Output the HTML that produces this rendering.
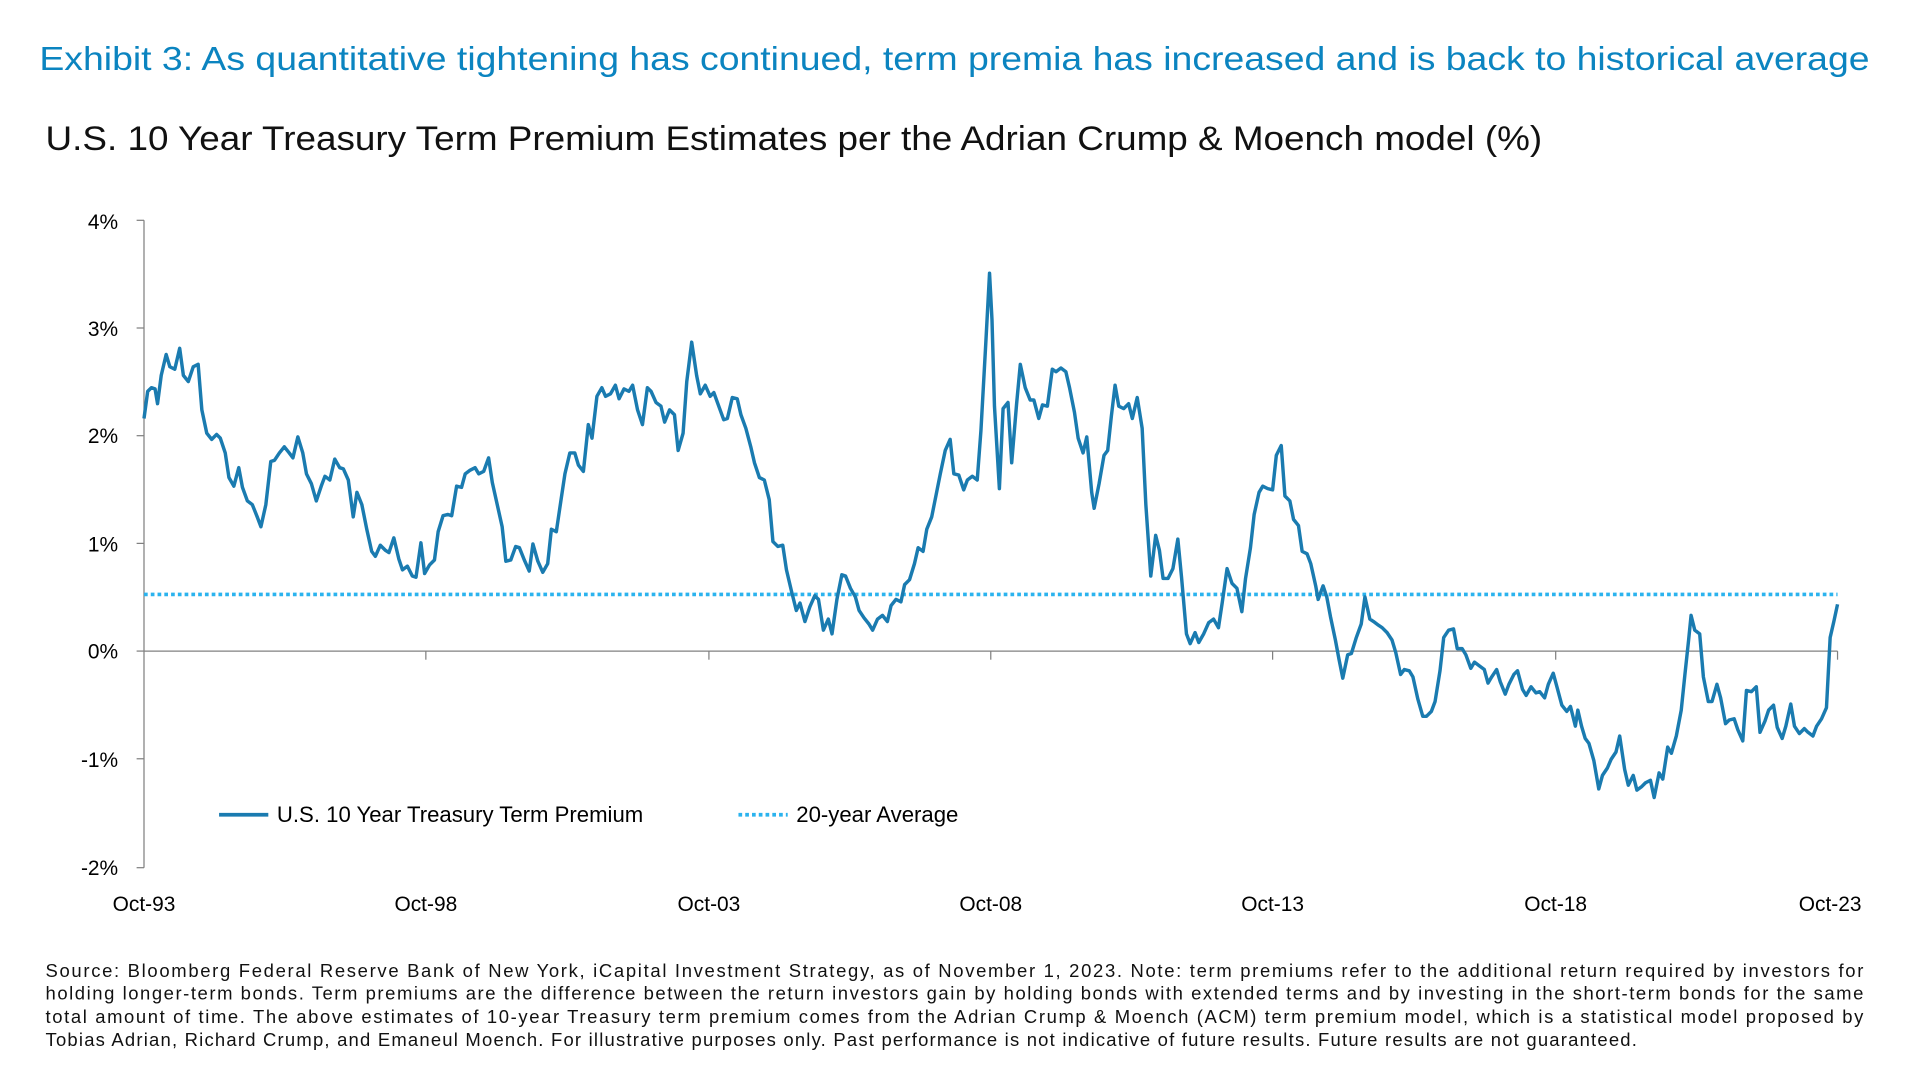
<!DOCTYPE html>
<html><head><meta charset="utf-8"><style>
html,body{margin:0;padding:0;background:#fff;}
svg{display:block;}
text{font-family:"Liberation Sans",sans-serif;}
</style></head><body>
<svg width="1920" height="1080" viewBox="0 0 1560 877.5" xmlns="http://www.w3.org/2000/svg">
<rect width="1560" height="877.5" fill="#fff"/>
<text x="32" y="57" font-size="27" fill="#0b84c0" textLength="1487" lengthAdjust="spacingAndGlyphs">Exhibit 3: As quantitative tightening has continued, term premia has increased and is back to historical average</text>
<text x="37" y="122" font-size="28" fill="#111" textLength="1216" lengthAdjust="spacingAndGlyphs">U.S. 10 Year Treasury Term Premium Estimates per the Adrian Crump &amp; Moench model (%)</text>
<g font-size="17" fill="#000" text-anchor="end">
<text x="96" y="186">4%</text><text x="96" y="273">3%</text><text x="96" y="360">2%</text><text x="96" y="448">1%</text><text x="96" y="535">0%</text><text x="96" y="623">-1%</text><text x="96" y="711">-2%</text>
</g>
<g stroke="#808080" stroke-width="1" fill="none">
<line x1="117" y1="179" x2="117" y2="705"/>
<line x1="111" y1="179" x2="117" y2="179"/><line x1="111" y1="266.5" x2="117" y2="266.5"/><line x1="111" y1="354" x2="117" y2="354"/><line x1="111" y1="441.5" x2="117" y2="441.5"/><line x1="111" y1="529" x2="117" y2="529"/><line x1="111" y1="616.5" x2="117" y2="616.5"/><line x1="111" y1="705" x2="117" y2="705"/>
<line x1="117" y1="529" x2="1493" y2="529"/>
<line x1="346" y1="529" x2="346" y2="536"/><line x1="576" y1="529" x2="576" y2="536"/><line x1="805" y1="529" x2="805" y2="536"/><line x1="1034" y1="529" x2="1034" y2="536"/><line x1="1264" y1="529" x2="1264" y2="536"/><line x1="1493" y1="529" x2="1493" y2="536"/>
</g>
<g font-size="17" fill="#000" text-anchor="middle">
<text x="117" y="740">Oct-93</text><text x="346" y="740">Oct-98</text><text x="576" y="740">Oct-03</text><text x="805" y="740">Oct-08</text><text x="1034" y="740">Oct-13</text><text x="1264" y="740">Oct-18</text><text x="1487" y="740">Oct-23</text>
</g>
<line x1="117" y1="483" x2="1493" y2="483" stroke="#2bb3ee" stroke-width="3" stroke-dasharray="3,2.5"/>
<polyline fill="none" stroke="#1a7bb0" stroke-width="2.8" stroke-linejoin="round" points="117,340 120,318 123,315 126,316 128,328 131,305 135,288 138,298 142,300 146,283 149,305 153,310 157,298 161,296 164,333 168,352 172,357 176,353 179,356 183,368 186,388 190,395 194,380 197,396 201,407 205,410 209,420 212,428 216,410 220,375 223,374 227,368 231,363 235,368 238,372 242,355 246,368 249,385 253,393 257,407 261,395 264,387 268,390 272,373 276,380 279,381 283,390 287,420 290,400 294,410 298,430 302,448 305,452 309,443 313,447 316,449 320,437 324,454 327,463 331,460 335,468 338,469 342,441 345,466 349,459 353,455 356,432 360,419 364,418 367,419 371,395 375,396 378,385 382,382 386,380 389,385 393,383 397,372 400,392 404,410 408,428 411,456 415,455 419,444 422,445 426,455 430,464 433,442 437,456 441,465 445,458 448,430 452,432 456,405 459,385 463,368 467,368 470,378 474,383 478,345 481,356 485,322 489,315 492,322 496,320 500,313 503,324 507,316 511,318 514,313 518,333 522,345 526,315 529,318 533,327 537,330 540,343 544,333 548,337 551,366 555,352 558,310 562,278 566,305 569,320 573,313 577,322 580,319 584,330 588,341 591,340 595,323 599,324 602,337 606,348 610,363 613,376 617,388 621,390 625,406 628,440 632,444 636,443 639,463 643,480 647,496 650,490 654,505 658,493 662,484 665,487 669,512 673,503 676,515 680,487 684,467 687,468 691,478 695,485 698,496 702,502 706,507 709,512 713,503 717,500 721,505 724,492 728,487 732,489 735,475 739,471 743,458 746,445 750,448 753,430 757,420 761,400 764,385 768,366 772,357 775,385 779,386 783,398 786,390 790,387 794,390 797,350 801,278 804,222 806,260 808,330 812,397 815,332 819,327 822,376 826,328 829,296 833,315 837,325 840,325 844,340 847,329 851,330 855,300 858,302 862,299 866,302 869,315 873,335 876,356 880,368 883,355 887,400 889,413 893,393 897,370 900,366 903,338 906,313 909,330 913,332 917,328 920,340 924,323 928,348 931,410 935,468 939,435 942,447 945,470 949,470 953,462 957,438 960,469 964,515 967,523 971,514 974,522 978,515 982,506 986,503 990,510 993,490 997,462 1001,474 1005,478 1009,497 1012,470 1016,445 1019,418 1023,400 1026,395 1030,397 1034,398 1037,370 1041,362 1044,403 1048,407 1051,422 1055,427 1058,448 1062,450 1065,458 1069,476 1071,487 1075,476 1078,485 1081,501 1085,520 1088,536 1091,551 1095,532 1098,531 1102,518 1106,507 1109,485 1113,503 1116,505 1120,508 1123,510 1127,514 1131,520 1134,530 1138,548 1141,544 1145,545 1148,550 1152,568 1156,582 1159,582 1163,578 1166,570 1170,545 1173,518 1177,512 1181,511 1184,527 1188,527 1191,532 1195,543 1198,538 1202,541 1206,544 1209,555 1212,550 1216,544 1219,554 1223,564 1226,556 1230,548 1233,545 1237,560 1240,565 1244,558 1248,563 1251,562 1255,567 1258,556 1262,547 1265,558 1269,573 1273,578 1276,574 1280,590 1282,577 1285,590 1288,600 1291,604 1295,618 1299,641 1302,630 1306,624 1309,617 1313,611 1316,598 1320,625 1323,638 1327,630 1330,642 1334,639 1337,636 1341,634 1344,648 1348,628 1351,633 1355,607 1358,612 1362,598 1366,577 1369,548 1372,520 1374,500 1377,512 1381,515 1384,550 1388,570 1391,570 1395,556 1398,567 1402,588 1405,585 1409,584 1412,593 1416,602 1419,561 1423,562 1427,558 1430,595 1434,586 1437,577 1441,573 1444,591 1448,600 1451,590 1455,572 1458,590 1462,596 1466,592 1469,595 1473,598 1476,590 1480,584 1484,575 1487,518 1490,505 1493,491"/>
<line x1="178" y1="662" x2="218" y2="662" stroke="#1a7bb0" stroke-width="3"/>
<text x="225" y="668" font-size="18" fill="#000">U.S. 10 Year Treasury Term Premium</text>
<line x1="600" y1="662" x2="640" y2="662" stroke="#2bb3ee" stroke-width="3" stroke-dasharray="3,2.5"/>
<text x="647" y="668" font-size="18" fill="#000">20-year Average</text>
<g font-size="15" fill="#111">
<text x="37" y="794" textLength="1477" lengthAdjust="spacing">Source: Bloomberg Federal Reserve Bank of New York, iCapital Investment Strategy, as of November 1, 2023. Note: term premiums refer to the additional return required by investors for</text>
<text x="37" y="812" textLength="1477" lengthAdjust="spacing">holding longer-term bonds. Term premiums are the difference between the return investors gain by holding bonds with extended terms and by investing in the short-term bonds for the same</text>
<text x="37" y="831" textLength="1477" lengthAdjust="spacing">total amount of time. The above estimates of 10-year Treasury term premium comes from the Adrian Crump &amp; Moench (ACM) term premium model, which is a statistical model proposed by</text>
<text x="37" y="850" textLength="1293" lengthAdjust="spacing">Tobias Adrian, Richard Crump, and Emaneul Moench. For illustrative purposes only. Past performance is not indicative of future results. Future results are not guaranteed.</text>
</g>
</svg>
</body></html>
